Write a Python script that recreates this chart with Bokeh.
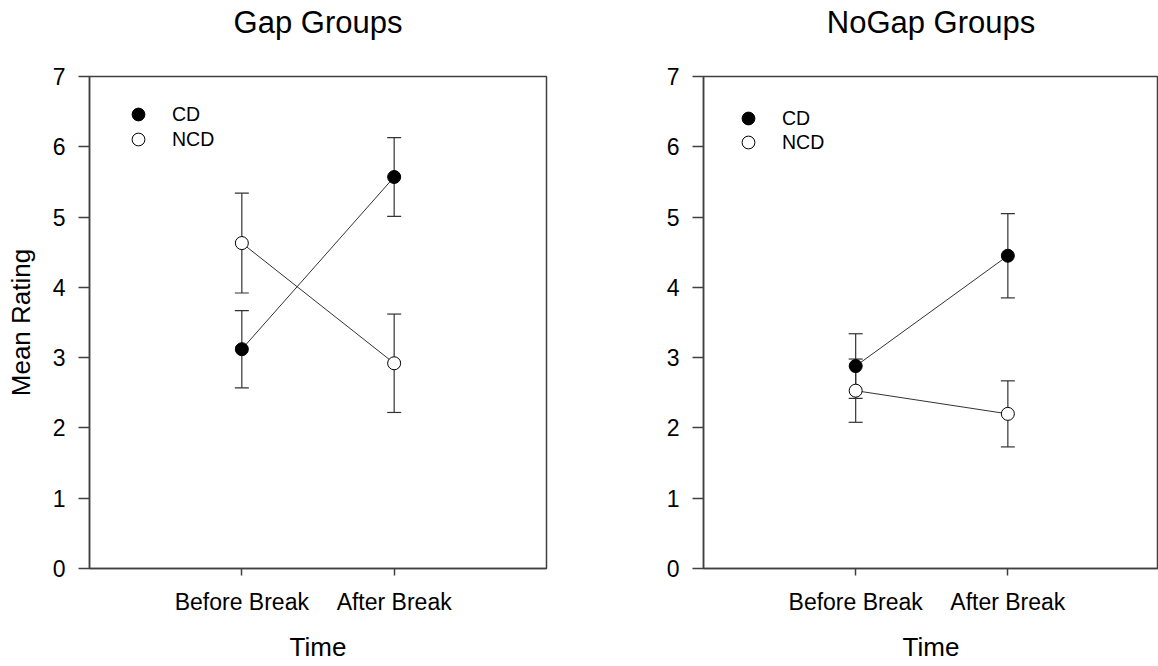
from bokeh.plotting import figure
from bokeh.layouts import row
from bokeh.models import (ColumnDataSource, Whisker, TeeHead, Legend, LegendItem,
                          FixedTicker, Range1d, Title)
from bokeh.embed import file_html
from bokeh.resources import INLINE

# ---- data ----
times = ["Before Break", "After Break"]
gap_cd_mean = [3.12, 5.57]
gap_cd_err = [0.55, 0.56]
gap_ncd_mean = [4.63, 2.92]
gap_ncd_err = [0.71, 0.70]
nogap_cd_mean = [2.88, 4.45]
nogap_cd_err = [0.46, 0.60]
nogap_ncd_mean = [2.53, 2.20]
nogap_ncd_err = [0.45, 0.47]
y_ticks = [0, 1, 2, 3, 4, 5, 6, 7]
series_names = ["CD", "NCD"]

FONT = "Liberation Sans"
AX = "#404040"
LN = "#333333"


def make_panel(title, cd_mean, cd_err, ncd_mean, ncd_err, left_border, right_border,
               frame_w, x_end, ylabel, leg_x, leg_ys):
    p = figure(width=left_border + frame_w + right_border, height=666,
               x_range=Range1d(0, x_end), y_range=Range1d(0, 7),
               output_backend="svg", toolbar_location=None, title_location=None,
               min_border_left=left_border, min_border_right=right_border,
               min_border_top=76, min_border_bottom=98)
    p.grid.visible = False
    p.outline_line_color = AX
    p.outline_line_width = 1.5
    p.background_fill_color = "white"
    p.border_fill_color = "white"

    # spacer between frame and title, then the title itself
    p.add_layout(Title(text=" ", text_font_size="1px", standoff=34), "above")
    p.add_layout(Title(text=title, text_font=FONT, text_font_size="31px",
                       text_font_style="normal", align="center", standoff=0,
                       vertical_align="bottom", text_color="black"), "above")

    xs = [i + 1 for i in range(len(times))]
    for ax in (p.xaxis[0], p.yaxis[0]):
        ax.axis_line_color = AX
        ax.axis_line_width = 1.5
        ax.major_tick_line_color = AX
        ax.major_tick_line_width = 1.5
        ax.minor_tick_line_color = None
        ax.major_tick_in = 0
        ax.major_label_text_font = FONT
        ax.major_label_text_color = "black"
        ax.axis_label_text_font = FONT
        ax.axis_label_text_font_style = "normal"
        ax.axis_label_text_color = "black"
        ax.axis_label_text_font_size = "26px"
    p.xaxis.ticker = FixedTicker(ticks=xs)
    p.xaxis.major_label_overrides = {x: t for x, t in zip(xs, times)}
    p.xaxis.major_tick_out = 7
    p.xaxis.major_label_text_font_size = "23px"
    p.xaxis.major_label_standoff = 13
    p.xaxis.axis_label = "Time"
    p.xaxis.axis_label_standoff = 14
    p.yaxis.ticker = FixedTicker(ticks=y_ticks)
    p.yaxis.major_tick_out = 11
    p.yaxis.major_label_text_font_size = "23px"
    p.yaxis.major_label_standoff = 13
    if ylabel:
        p.yaxis.axis_label = ylabel
        p.yaxis.axis_label_standoff = 14

    cd_src = ColumnDataSource(dict(x=xs, y=cd_mean,
                                   lo=[m - e for m, e in zip(cd_mean, cd_err)],
                                   hi=[m + e for m, e in zip(cd_mean, cd_err)]))
    ncd_src = ColumnDataSource(dict(x=xs, y=ncd_mean,
                                    lo=[m - e for m, e in zip(ncd_mean, ncd_err)],
                                    hi=[m + e for m, e in zip(ncd_mean, ncd_err)]))
    for src in (cd_src, ncd_src):
        w = Whisker(base="x", lower="lo", upper="hi", source=src,
                    line_color=LN, line_width=1.2,
                    upper_head=TeeHead(size=14, line_color=LN, line_width=1.2),
                    lower_head=TeeHead(size=14, line_color=LN, line_width=1.2),
                    level="underlay")
        p.add_layout(w)
    p.line("x", "y", source=cd_src, line_color=LN, line_width=1)
    p.line("x", "y", source=ncd_src, line_color=LN, line_width=1)
    r_cd = p.scatter("x", "y", source=cd_src, size=13, marker="circle",
                     fill_color="black", line_color="black", line_width=1)
    r_ncd = p.scatter("x", "y", source=ncd_src, size=13, marker="circle",
                      fill_color="white", line_color="black", line_width=1)

    for name, r, ly in zip(series_names, (r_cd, r_ncd), leg_ys):
        leg = Legend(items=[LegendItem(label=name, renderers=[r])],
                     location=(leg_x, ly), glyph_width=32, glyph_height=32,
                     label_height=32, padding=0, margin=0,
                     label_standoff=18, border_line_color=None,
                     background_fill_alpha=0,
                     label_text_font=FONT, label_text_font_size="19.5px",
                     label_text_color="black")
        p.add_layout(leg)
    return p


left = make_panel("Gap Groups", gap_cd_mean, gap_cd_err, gap_ncd_mean, gap_ncd_err,
                  89, 74, 457, 3, "Mean Rating", 33, (438, 413))
right = make_panel("NoGap Groups", nogap_cd_mean, nogap_cd_err, nogap_ncd_mean, nogap_ncd_err,
                   83, 0, 455, 2.99, None, 29, (434, 410))

layout = row(left, right, spacing=0)
open("out.html", "w").write(file_html(layout, INLINE))
